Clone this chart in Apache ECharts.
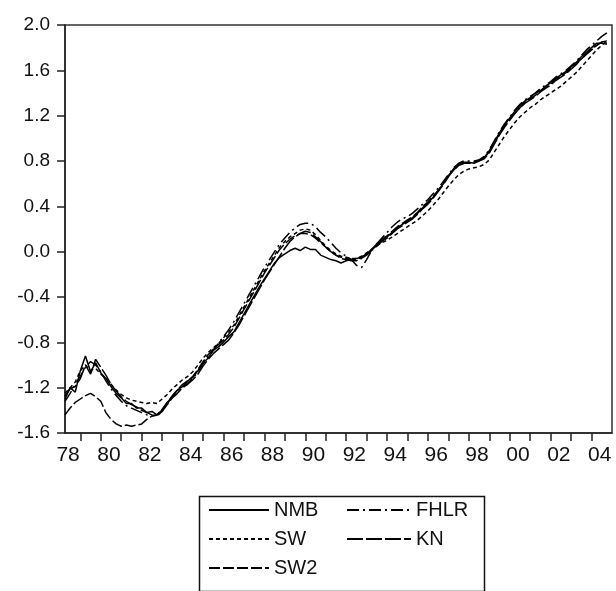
<!DOCTYPE html>
<html>
<head>
<meta charset="utf-8">
<script src="https://cdn.jsdelivr.net/npm/echarts@6/dist/echarts.min.js"></script>
<style>html,body{margin:0;padding:0;background:#fff}#c{width:616px;height:591px}</style>
</head>
<body>
<div id="c"></div>
<script>
// Quarterly observation dates, 1978Q2 .. 2004Q4
const startYear = 1978.25;
const quarters = Array.from({length: 107}, (_, i) => startYear + i * 0.25);

const NMB = [
 -1.30,-1.20,-1.24,
 -1.05,-0.92,-1.06,-0.98,
 -1.07,-1.12,-1.19,-1.25,
 -1.29,-1.34,-1.34,-1.38,
 -1.38,-1.42,-1.41,-1.44,
 -1.40,-1.33,-1.28,-1.22,
 -1.19,-1.14,-1.11,-1.05,
 -0.98,-0.94,-0.87,-0.84,
 -0.80,-0.75,-0.71,-0.63,
 -0.55,-0.47,-0.39,-0.31,
 -0.24,-0.17,-0.10,-0.05,
 -0.02,0.01,0.03,0.01,
 0.04,0.02,0.02,-0.03,
 -0.05,-0.07,-0.08,-0.10,
 -0.08,-0.07,-0.06,-0.05,
 -0.02,0.02,0.06,0.10,
 0.13,0.17,0.21,0.24,
 0.27,0.30,0.34,0.39,
 0.43,0.48,0.54,0.60,
 0.67,0.73,0.77,0.79,
 0.79,0.78,0.80,0.83,
 0.89,0.97,1.05,1.12,
 1.18,1.24,1.29,1.33,
 1.36,1.40,1.42,1.46,
 1.49,1.53,1.56,1.59,
 1.63,1.67,1.72,1.76,
 1.80,1.84,1.84,1.83
];
const SW = [
 -1.25,-1.20,-1.15,
 -1.05,-1.00,-1.05,-1.03,
 -1.08,-1.12,-1.17,-1.22,
 -1.26,-1.29,-1.31,-1.32,
 -1.33,-1.34,-1.33,-1.34,
 -1.30,-1.26,-1.21,-1.17,
 -1.13,-1.10,-1.06,-1.00,
 -0.94,-0.89,-0.85,-0.81,
 -0.76,-0.71,-0.65,-0.57,
 -0.49,-0.41,-0.33,-0.25,
 -0.17,-0.10,-0.03,0.04,
 0.09,0.13,0.16,0.19,
 0.20,0.19,0.15,0.10,
 0.05,0.01,-0.02,-0.04,
 -0.05,-0.06,-0.06,-0.04,
 -0.01,0.02,0.05,0.08,
 0.10,0.13,0.16,0.19,
 0.22,0.25,0.28,0.32,
 0.36,0.41,0.46,0.52,
 0.58,0.63,0.68,0.71,
 0.73,0.74,0.75,0.77,
 0.81,0.88,0.95,1.02,
 1.08,1.14,1.19,1.23,
 1.27,1.30,1.34,1.37,
 1.40,1.43,1.46,1.50,
 1.54,1.58,1.63,1.68,
 1.73,1.78,1.82,1.86
];
const SW2 = [
 -1.44,-1.38,-1.33,
 -1.30,-1.27,-1.25,-1.28,
 -1.32,-1.42,-1.48,-1.52,
 -1.54,-1.53,-1.54,-1.53,
 -1.52,-1.48,-1.45,-1.44,
 -1.39,-1.33,-1.27,-1.22,
 -1.17,-1.14,-1.10,-1.04,
 -0.97,-0.91,-0.86,-0.82,
 -0.78,-0.73,-0.67,-0.59,
 -0.51,-0.43,-0.35,-0.27,
 -0.19,-0.12,-0.05,0.02,
 0.07,0.11,0.14,0.16,
 0.16,0.15,0.12,0.08,
 0.04,0.00,-0.03,-0.05,
 -0.06,-0.07,-0.07,-0.05,
 -0.02,0.02,0.07,0.11,
 0.14,0.18,0.22,0.25,
 0.28,0.31,0.35,0.40,
 0.44,0.49,0.54,0.60,
 0.67,0.72,0.76,0.78,
 0.78,0.79,0.81,0.83,
 0.88,0.96,1.04,1.11,
 1.17,1.22,1.27,1.32,
 1.35,1.38,1.42,1.45,
 1.48,1.52,1.55,1.58,
 1.62,1.66,1.70,1.75,
 1.79,1.82,1.85,1.84
];
const FHLR = [
 -1.32,-1.25,-1.17,
 -1.10,-1.02,-0.97,-1.00,
 -1.06,-1.14,-1.21,-1.27,
 -1.32,-1.36,-1.38,-1.40,
 -1.42,-1.44,-1.45,-1.44,
 -1.40,-1.34,-1.28,-1.23,
 -1.19,-1.16,-1.12,-1.06,
 -0.99,-0.93,-0.87,-0.81,
 -0.75,-0.69,-0.62,-0.54,
 -0.46,-0.38,-0.30,-0.22,
 -0.14,-0.07,0.00,0.07,
 0.12,0.17,0.21,0.24,
 0.25,0.25,0.22,0.17,
 0.13,0.08,0.03,-0.01,
 -0.04,-0.07,-0.12,-0.14,
 -0.07,0.01,0.07,0.12,
 0.17,0.22,0.26,0.29,
 0.31,0.34,0.38,0.42,
 0.46,0.51,0.56,0.62,
 0.68,0.74,0.78,0.80,
 0.80,0.80,0.81,0.84,
 0.90,0.98,1.06,1.13,
 1.19,1.25,1.30,1.34,
 1.37,1.40,1.44,1.47,
 1.50,1.54,1.57,1.60,
 1.64,1.68,1.73,1.78,
 1.82,1.86,1.90,1.93
];
const KN = [
 -1.27,-1.21,-1.19,
 -1.12,-1.00,-1.08,-0.95,
 -1.02,-1.09,-1.17,-1.23,
 -1.28,-1.32,-1.35,-1.37,
 -1.40,-1.42,-1.44,-1.45,
 -1.41,-1.35,-1.29,-1.25,
 -1.20,-1.17,-1.13,-1.08,
 -1.01,-0.95,-0.90,-0.86,
 -0.82,-0.78,-0.72,-0.65,
 -0.57,-0.49,-0.41,-0.33,
 -0.25,-0.18,-0.11,-0.04,
 0.03,0.09,0.13,0.16,
 0.18,0.17,0.13,0.09,
 0.04,0.00,-0.03,-0.06,
 -0.07,-0.08,-0.08,-0.06,
 -0.03,0.01,0.05,0.09,
 0.12,0.16,0.20,0.23,
 0.26,0.29,0.33,0.38,
 0.42,0.47,0.53,0.59,
 0.66,0.72,0.76,0.78,
 0.78,0.79,0.80,0.82,
 0.87,0.95,1.03,1.10,
 1.16,1.22,1.27,1.31,
 1.34,1.37,1.41,1.44,
 1.47,1.51,1.54,1.57,
 1.61,1.65,1.70,1.74,
 1.78,1.82,1.85,1.86
];

const yearTicks = [1979,1980,1981,1982,1983,1984,1985,1986,1987,1988,1989,1990,1991,1992,1993,1994,1995,1996,1997,1998,1999,2000,2001,2002,2003,2004];
const labelYears = [1978,1980,1982,1984,1986,1988,1990,1992,1994,1996,1998,2000,2002,2004];
const yTickLabels = ['-1.6','-1.2','-0.8','-0.4','0.0','0.4','0.8','1.2','1.6','2.0'];

const FONT = 'Liberation Sans, Arial, sans-serif';
const seriesDefs = [
  {name: 'NMB', data: NMB, dash: 'solid'},
  {name: 'SW', data: SW, dash: [4, 3]},
  {name: 'SW2', data: SW2, dash: [11, 3]},
  {name: 'FHLR', data: FHLR, dash: [12, 4, 2, 4]},
  {name: 'KN', data: KN, dash: [16, 3]}
];

const legendCommon = {
  orient: 'vertical', top: 500, padding: 0,
  itemHeight: 14, itemGap: 9,
  textStyle: {color: '#111', fontFamily: FONT, fontSize: 20, lineHeight: 20},
  itemStyle: {opacity: 0}
};

const chart = echarts.init(document.getElementById('c'), null, {renderer: 'canvas'});
chart.setOption({
  animation: false,
  backgroundColor: '#fff',
  grid: {left: 65, right: 4, top: 25, bottom: 158, show: true, borderColor: '#333', borderWidth: 1.5, backgroundColor: 'transparent'},
  xAxis: {
    type: 'value', min: 1978.25, max: 2005,
    axisLine: {show: true, onZero: false, lineStyle: {color: '#222', width: 1.5}},
    axisTick: {show: true, inside: false, length: 8, customValues: yearTicks, lineStyle: {color: '#222', width: 1.5}},
    axisLabel: {
      customValues: labelYears.map(y => y + 0.4),
      formatter: v => String(Math.floor(v) % 100).padStart(2, '0'),
      color: '#111', fontFamily: FONT, fontSize: 21, margin: 12
    },
    splitLine: {show: false}
  },
  yAxis: {
    type: 'value', min: -1.6, max: 2.0, interval: 0.4,
    axisLine: {show: true, onZero: false, lineStyle: {color: '#222', width: 1.5}},
    axisTick: {show: true, inside: false, length: 8, lineStyle: {color: '#222', width: 1.5}},
    axisLabel: {
      formatter: v => { const s = yTickLabels.find(t => Math.abs(parseFloat(t) - v) < 1e-6); return s || v.toFixed(1); },
      color: '#111', fontFamily: FONT, fontSize: 19, margin: 15
    },
    splitLine: {show: false}
  },
  legend: [
    Object.assign({}, legendCommon, {data: ['NMB', 'SW', 'SW2'], left: 208, itemWidth: 60}),
    Object.assign({}, legendCommon, {data: ['FHLR', 'KN'], left: 346, itemWidth: 64})
  ],
  graphic: [{
    type: 'rect', left: 197, top: 494,
    shape: {width: 285, height: 95},
    style: {fill: 'none', stroke: '#111', lineWidth: 1.5},
    silent: true
  }],
  series: seriesDefs.map(s => ({
    name: s.name, type: 'line', symbol: 'none', showSymbol: false,
    data: quarters.map((q, i) => [q, s.data[i]]),
    lineStyle: {color: '#000', width: 1.5, type: s.dash},
    itemStyle: {color: '#000'}
  }))
});
</script>
</body>
</html>
